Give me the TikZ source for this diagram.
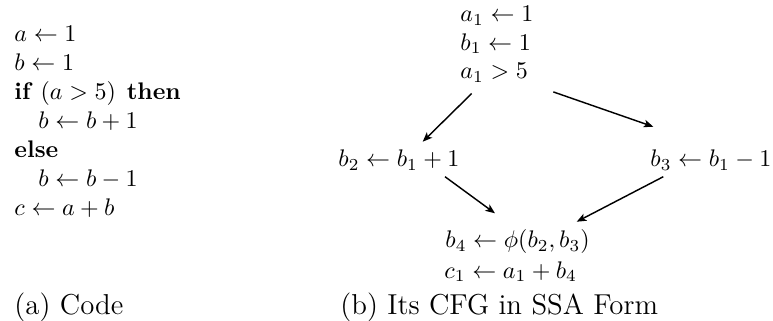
\documentclass[tikz,border=0pt]{standalone}
\usepackage{amsmath,amssymb}
\usepackage{tikz}
\usetikzlibrary{arrows.meta}

\begin{document}
\begin{tikzpicture}[x=0.41667pt,y=-0.41667pt]

    \useasboundingbox (0,0) rectangle (773,320);
    \tikzstyle{every node}=[inner sep=0pt,anchor=base west]

    % code
    \node(l1) at (14,41){$a \leftarrow 1$};
    \node(l2) at (14,70){$b \leftarrow 1$};
    \node(l3) at (14,99){\textbf{if} $(a > 5)$\hspace{4.5pt}\textbf{then}};
    \node(l4) at (38,128){$b \leftarrow b + 1$};
    \node(l5) at (14,157){\textbf{else}};
    \node(l6) at (38,186){$b \leftarrow b - 1$};
    \node(l7) at (14,215){$c \leftarrow a + b$};
    \node(capa) at (14,314){\large (a) Code};

    % cfg
    \node(t1) at (460,21.7){$a_1 \leftarrow 1$};
    \node(t2) at (460,50.2){$b_1 \leftarrow 1$};
    \node(t3) at (460,78.7){$a_1 > 5$};
    \node(bl) at (338,166.5){$b_2 \leftarrow b_1 + 1$};
    \node(br) at (650,166.5){$b_3 \leftarrow b_1 - 1$};
    \node(j1) at (445,247.5){$b_4 \leftarrow \phi(b_2, b_3)$};
    \node(j2) at (444,278){$c_1 \leftarrow a_1 + b_4$};
    \node(capb) at (340,314){\large (b) Its CFG in SSA Form};

    \tikzstyle{every node}=[]

    % edges
    \tikzstyle{edge}=[line width=0.6pt,-{Stealth[length=4pt,width=3.2pt,inset=1pt]}]
    \draw[edge]([shift={(11.7,14.8)}]t3.base west)--([shift={(84.7,-24.8)}]bl.base west);
    \draw[edge]([shift={(93.3,13.2)}]t3.base west)--([shift={(3.3,-39.8)}]br.base west);
    \draw[edge]([shift={(107,10.2)}]bl.base west)--([shift={(50,-34.2)}]j1.base west);
    \draw[edge]([shift={(13.3,10.2)}]br.base west)--([shift={(131.7,-25.8)}]j1.base west);

\end{tikzpicture}
\end{document}
